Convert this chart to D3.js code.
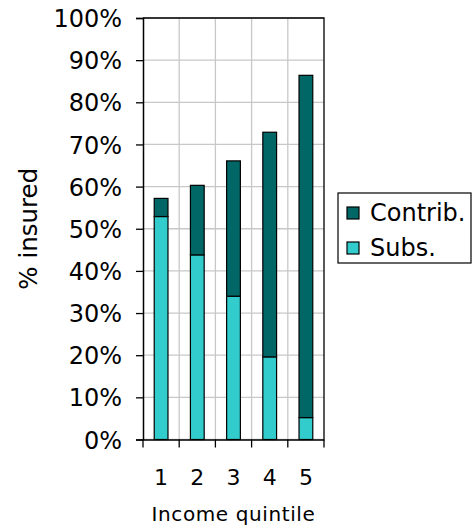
<!DOCTYPE html>
<html>
<head>
<meta charset="utf-8">
<script src="https://cdn.jsdelivr.net/npm/d3@7"></script>
<style>
  body { margin: 0; background: #fff; }
  text { font-family: "DejaVu Sans", Verdana, sans-serif; fill: #000; }
</style>
</head>
<body>
<div id="vis"></div>
<script>
// values (% insured)
var quintiles = ['1', '2', '3', '4', '5'];
var subs = [52.9, 43.8, 34.0, 19.6, 5.2];
var contrib = [4.3, 16.5, 32.1, 53.3, 81.2];
var seriesNames = ['Subs.', 'Contrib.'];
var legendOrder = ['Contrib.', 'Subs.'];
var yTicks = [0, 10, 20, 30, 40, 50, 60, 70, 80, 90, 100];

var width = 472;
var height = 525;
var margin = { top: 18, right: 148, bottom: 85.5, left: 143 };
var innerW = width - margin.left - margin.right;
var innerH = height - margin.top - margin.bottom;

var fillColor = d3.scaleOrdinal()
  .domain(seriesNames)
  .range(['#33cccc', '#006666']);

var rows = quintiles.map(function (q, i) {
  return { q: q, 'Subs.': subs[i], 'Contrib.': contrib[i] };
});

var stacked = d3.stack().keys(seriesNames)(rows);

var x = d3.scaleBand().domain(quintiles).range([0, innerW]).padding(0);
var y = d3.scaleLinear().domain([0, 100]).range([innerH, 0]);

var svg = d3.select('#vis').append('svg')
  .attr('width', width)
  .attr('height', height);

var g = svg.append('g')
  .attr('transform', 'translate(' + margin.left + ',' + margin.top + ')');

// grid
g.selectAll('.hgrid')
  .data(yTicks)
  .enter().append('line')
  .attr('x1', 0).attr('x2', innerW)
  .attr('y1', function (d) { return y(d); })
  .attr('y2', function (d) { return y(d); })
  .attr('stroke', '#c8c8c8')
  .attr('stroke-width', 1.3);

g.selectAll('.vgrid')
  .data(quintiles.slice(1))
  .enter().append('line')
  .attr('x1', function (d) { return x(d); })
  .attr('x2', function (d) { return x(d); })
  .attr('y1', 0).attr('y2', innerH)
  .attr('stroke', '#c8c8c8')
  .attr('stroke-width', 1.3);

// plot border (top and right)
g.append('path')
  .attr('d', 'M0,0H' + innerW + 'V' + innerH)
  .attr('fill', 'none')
  .attr('stroke', '#000')
  .attr('stroke-width', 1.3);

// bars
var barW = x.bandwidth() * 0.38;
g.selectAll('.layer')
  .data(stacked)
  .enter().append('g')
  .attr('fill', function (d) { return fillColor(d.key); })
  .selectAll('rect')
  .data(function (d) { return d; })
  .enter().append('rect')
  .attr('x', function (d) { return x(d.data.q) + (x.bandwidth() - barW) / 2; })
  .attr('y', function (d) { return y(d[1]); })
  .attr('width', barW)
  .attr('height', function (d) { return y(d[0]) - y(d[1]); })
  .attr('stroke', '#000')
  .attr('stroke-width', 1.2);

// y axis
var yAxis = g.append('g')
  .call(d3.axisLeft(y).tickValues(yTicks).tickSize(7).tickPadding(14)
    .tickFormat(function (d) { return d + '%'; }));
yAxis.selectAll('text').style('font-size', '24px').attr('dy', '0.36em');

// x axis
var xAxis = g.append('g')
  .attr('transform', 'translate(0,' + innerH + ')')
  .call(d3.axisBottom(x).tickSize(0).tickPadding(30));
xAxis.selectAll('text').style('font-size', '22px');
xAxis.selectAll('.bound')
  .data(quintiles.concat(['end']))
  .enter().append('line')
  .attr('x1', function (d, i) { return i * x.bandwidth(); })
  .attr('x2', function (d, i) { return i * x.bandwidth(); })
  .attr('y1', 0).attr('y2', 8)
  .attr('stroke', '#000')
  .attr('stroke-width', 1.3);

svg.selectAll('.domain').attr('stroke', '#000').attr('stroke-width', 1.5);
svg.selectAll('.tick line').attr('stroke', '#000').attr('stroke-width', 1.3);

// axis titles
svg.append('text')
  .attr('x', margin.left + innerW / 2)
  .attr('y', 521)
  .attr('text-anchor', 'middle')
  .style('font-size', '20px')
  .style('letter-spacing', '0.6px')
  .text('Income quintile');

svg.append('text')
  .attr('transform', 'translate(37,' + (margin.top + innerH / 2) + ') rotate(-90)')
  .attr('text-anchor', 'middle')
  .style('font-size', '24.5px')
  .text('% insured');

// legend
var legend = svg.append('g').attr('transform', 'translate(338,193)');
legend.append('rect')
  .attr('width', 133).attr('height', 70)
  .attr('fill', '#fff')
  .attr('stroke', '#000')
  .attr('stroke-width', 1.2);

var items = legend.selectAll('.item')
  .data(legendOrder)
  .enter().append('g')
  .attr('transform', function (d, i) { return 'translate(9,' + (14 + i * 35) + ')'; });

items.append('rect')
  .attr('width', 12).attr('height', 12)
  .attr('fill', function (d) { return fillColor(d); })
  .attr('stroke', '#000')
  .attr('stroke-width', 1.2);

items.append('text')
  .attr('x', 23)
  .attr('y', 14)
  .style('font-size', '24px')
  .text(function (d) { return d; });
</script>
</body>
</html>
